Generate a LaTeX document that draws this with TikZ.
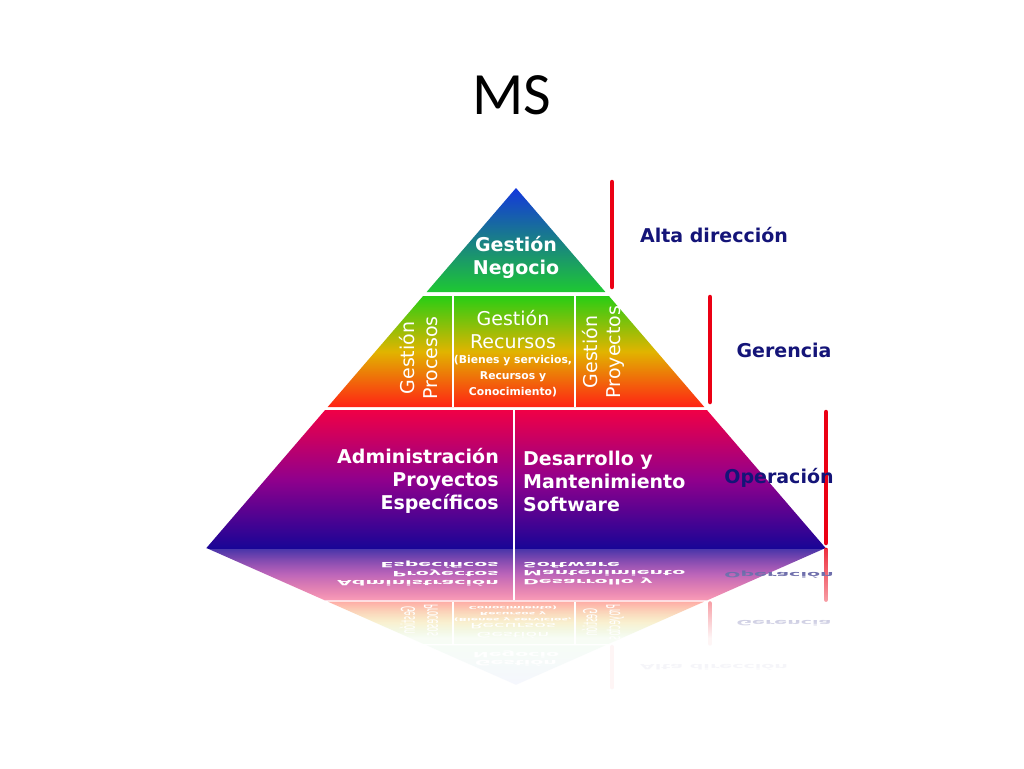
\documentclass[tikz,border=0pt]{standalone}
\usepackage{fontspec}
\setmainfont{DejaVu Sans}
\newfontfamily\titlefont{Carlito}
\usetikzlibrary{fadings}

\definecolor{tierblue}{RGB}{20,55,220}
\definecolor{tiergreen}{RGB}{30,200,50}
\definecolor{midgreen}{RGB}{40,205,20}
\definecolor{midyellow}{RGB}{225,180,0}
\definecolor{midred}{RGB}{255,35,20}
\definecolor{lowred}{RGB}{240,0,70}
\definecolor{lowpurple}{RGB}{145,0,140}
\definecolor{lownavy}{RGB}{25,5,150}
\definecolor{labelnavy}{RGB}{20,20,120}
\definecolor{barred}{RGB}{235,0,20}

\tikzfading[name=reflfade, top color=transparent!80, bottom color=transparent!4, middle color=transparent!45]

% pyramid with its texts, drawn twice (picture and mirror)
\newcommand\drawpyramid{%
	\shade[toptier] (516,188) -- (605.4,292) -- (426.6,292) -- cycle;
	\shade[midtier] (423.1,296) -- (608.9,296) -- (704.3,407) -- (327.7,407) -- cycle;
	\shade[lowtier] (325.1,410) -- (706.9,410) -- (825.6,548) -- (206.4,548) -- cycle;
	\draw[divider] (453,296) -- (453,407);
	\draw[divider] (575,296) -- (575,407);
	\draw[divider] (514,410) -- (514,548);
	\node[tiertext, font=\bfseries\fontsize{19}{23}\selectfont] (negocio) at (516,257) {Gestión\\Negocio};
	\node[tiertext] (recursos) at (513,330) {Gestión\\Recursos};
	\node[tiertext, font=\bfseries\fontsize{10.8}{16}\selectfont] (bienes) at (513,376) {(Bienes y servicios,\\Recursos y\\Conocimiento)};
	\node[tiertext, rotate=90] (procesos) at (419,358) {Gestión\\Procesos};
	\node[tiertext, rotate=90] (proyectos) at (603,352) {Gestión\\Proyectos};
	\node[tiertext, font=\bfseries\fontsize{19}{23}\selectfont, align=right, anchor=east] (admin) at (499,481) {Administración\\Proyectos\\Específicos};
	\node[tiertext, font=\bfseries\fontsize{19}{23}\selectfont, align=left, anchor=west] (software) at (523,481) {Desarrollo y\\Mantenimiento\\Software};
	\draw[redbar] (612,182) -- (612,287);
	\draw[redbar] (710,297) -- (710,402);
	\draw[redbar] (826,412) -- (826,543);
	\node[sidelabel] (alta) at (714,235) {Alta dirección};
	\node[sidelabel] (gerencia) at (784,350) {Gerencia};
	\node[sidelabel] (operacion) at (779,478) {Operación};
}

\begin{document}
\begin{tikzpicture}[
		x=1pt, y=-1pt,
		tiertext/.style={text=white, align=center, inner sep=0pt, font=\fontsize{19}{23}\selectfont},
		sidelabel/.style={text=labelnavy, inner sep=0pt, font=\bfseries\fontsize{19}{23}\selectfont},
		divider/.style={white, line width=2.5pt},
		redbar/.style={barred, line width=4.5pt, line cap=round},
		toptier/.style={top color=tierblue, bottom color=tiergreen},
		midtier/.style={top color=midgreen, bottom color=midred, middle color=midyellow},
		lowtier/.style={top color=lowred, bottom color=lownavy, middle color=lowpurple},
	]
	\useasboundingbox[fill=white] (0,0) rectangle (1024,768);
	\node[font=\titlefont\fontsize{60}{70}\selectfont] (title) at (512,95) {MS};

	\drawpyramid

	% mirror below the base, shadings turned round by hand
	\begin{scope}[shift={(0,548)}, yscale=-0.38, shift={(0,-548)}, transform shape,
			toptier/.style={top color=tiergreen, bottom color=tierblue},
			midtier/.style={top color=midred, bottom color=midgreen, middle color=midyellow},
			lowtier/.style={top color=lownavy, bottom color=lowred, middle color=lowpurple},
		]
		\drawpyramid
	\end{scope}
	\fill[white, path fading=reflfade] (150,549.5) rectangle (900,637.5);
	\fill[white, opacity=0.96] (150,637.5) rectangle (900,700);
	\fill[white] (150,700) rectangle (900,768);
\end{tikzpicture}
\end{document}
